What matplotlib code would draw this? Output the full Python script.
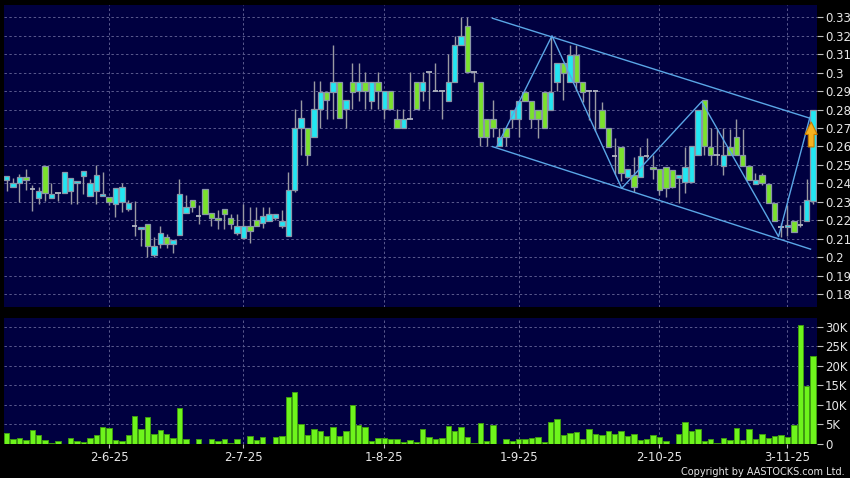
import matplotlib
matplotlib.use('Agg')
import matplotlib.pyplot as plt
from matplotlib.patches import FancyArrow

# daily OHLC, oldest first
opens = [.242, .238, .240, .2435, .237, .232, .2495, .232, .235, .235,
         .236, .240, .2437, .233, .236, .233, .2327, .229, .2298, .2259,
         .2168, .2152, .2179, .201, .2073, .2109, .2073, .2118, .2239, .2307,
         .2222, .2367, .2239, .2212, .2262, .2212, .2132, .2103, .217, .2202,
         .2184, .2196, .2214, .2166, .2112, .2363, .2698, .2698, .265, .2802,
         .2897, .2897, .2951, .2802, .2951, .2899, .2952, .2849, .2952, .2804,
         .2899, .2749, .2699, .2749, .2952, .2899, .3002, .2899, .2899, .2849,
         .2952, .3152, .3251, .3002, .295, .275, .275, .26, .27, .2748,
         .2748, .2896, .2847, .2799, .2896, .2799, .2952, .305, .2952, .3095,
         .2951, .29, .29, .2798, .2698, .2548, .2599, .2436, .2445, .2436,
         .2548, .249, .2476, .249, .2472, .2427, .2409, .2409, .2553, .285,
         .2596, .2553, .2495, .2596, .265, .2553, .2495, .2396, .2445, .2396,
         .2295, .2163, .2163, .2193, .2174, .2198, .2304]
highs = [.244, .243, .245, .248, .239, .238, .2495, .240, .235, .246,
         .243, .241, .2468, .2423, .250, .246, .2327, .2374, .2403, .2307,
         .2302, .2163, .2179, .211, .2168, .2127, .2095, .2424, .2334, .2307,
         .2284, .2367, .2239, .2253, .2262, .2235, .2235, .2286, .2273, .2273,
         .2273, .2273, .2234, .2256, .2462, .2802, .2851, .2698, .2954, .2954,
         .2897, .3152, .2951, .2851, .3053, .3051, .3002, .2952, .3002, .2899,
         .2899, .2804, .2804, .3002, .2952, .3002, .3002, .3051, .2899, .3101,
         .3201, .33, .33, .3002, .295, .275, .285, .27, .27, .2799,
         .2847, .2896, .2847, .2799, .2896, .32, .305, .305, .315, .315,
         .2951, .29, .29, .2843, .2698, .2644, .2599, .2476, .2545, .2599,
         .2644, .2556, .2476, .249, .2472, .2445, .2599, .26, .2795, .285,
         .27, .27, .27, .2695, .275, .2695, .2495, .2454, .2454, .2396,
         .2295, .2185, .2283, .2193, .2281, .2426, .2795]
lows = [.236, .238, .230, .2365, .225, .229, .2305, .232, .2305, .235,
        .229, .229, .234, .233, .229, .233, .228, .222, .2244, .2248,
        .2114, .206, .200, .200, .205, .205, .2022, .2118, .2239, .2244,
        .2177, .2235, .2168, .215, .215, .215, .2118, .2103, .2076, .2166,
        .2157, .2193, .2202, .2157, .2112, .2354, .2551, .2497, .265, .2698,
        .2748, .2748, .2752, .2698, .2802, .2849, .2804, .2804, .2804, .2749,
        .2804, .2699, .2699, .2749, .2804, .2849, .2804, .2899, .2749, .2849,
        .2952, .3152, .3002, .2952, .26, .26, .265, .26, .26, .27,
        .265, .2847, .27, .2648, .2699, .2799, .29, .285, .2952, .29,
        .2843, .2743, .2685, .2698, .2599, .245, .241, .2427, .2355, .2436,
        .2535, .2425, .2337, .2328, .2373, .2292, .2346, .2409, .2553, .2553,
        .25, .25, .2445, .2553, .2553, .2495, .242, .2396, .239, .2295,
        .2193, .2111, .2112, .2138, .2164, .2198, .229]
closes = [.244, .240, .2435, .242, .237, .236, .235, .234, .235, .246,
          .243, .241, .2468, .240, .2446, .234, .2296, .2374, .2379, .2293,
          .2168, .2163, .206, .206, .213, .2073, .2095, .2343, .2271, .2271,
          .2222, .2235, .2212, .2199, .2232, .2177, .2167, .217, .2144, .2171,
          .2223, .2234, .2234, .2193, .2363, .2698, .2752, .2551, .2802, .2897,
          .2851, .2951, .2752, .2851, .2897, .2952, .2899, .2952, .2899, .2899,
          .2804, .2699, .2749, .2749, .2804, .2952, .3002, .2899, .2899, .2952,
          .3152, .3201, .3002, .3002, .265, .265, .27, .265, .265, .2799,
          .2847, .2847, .2748, .2748, .2699, .2896, .305, .300, .3095, .2952,
          .2897, .29, .29, .2698, .2599, .2548, .2454, .2476, .2382, .2548,
          .2548, .2476, .2364, .2373, .2382, .2445, .249, .26, .2795, .26,
          .2553, .2553, .2553, .2553, .2553, .2495, .242, .242, .2404, .2295,
          .2193, .2163, .2175, .2138, .2174, .2308, .2795]

# volume in thousands of shares
volumes_k = [2.7, 1.2, 1.5, 1.0, 3.6, 2.4, 0.9, 0.2, 0.7, 0.1,
             1.5, 0.7, 0.4, 1.6, 2.2, 4.3, 4.2, 0.9, 0.7, 2.2,
             7.2, 3.8, 6.8, 2.5, 3.6, 2.6, 1.5, 9.1, 1.3, 0.1,
             1.3, 0.1, 1.4, 0.7, 1.4, 0.2, 1.3, 0.1, 2.1, 1.1,
             1.8, 0.1, 1.8, 2.0, 12.0, 13.2, 5.1, 2.4, 3.8, 3.2,
             2.1, 4.4, 2.1, 3.2, 9.9, 4.9, 4.3, 0.7, 1.5, 1.5,
             1.4, 1.3, 0.4, 0.9, 0.4, 3.8, 1.8,
             1.3, 1.5, 4.5, 3.3, 4.4, 1.8, 0.3, 5.3, 0.7, 4.9,
             0.1, 1.4, 0.8, 1.3, 1.3, 1.5, 1.8, 0.5, 5.6, 6.3,
             2.4, 2.7, 3.0, 1.2, 3.8, 2.6, 2.4, 3.3, 2.6, 3.2,
             2.0, 2.5, 1.0, 1.4, 2.2, 1.7, 0.8, 0.1, 2.5, 5.6,
             3.3, 3.8, 0.7, 1.2, 0.3, 1.5, 0.9, 4.0, 1.1, 3.8,
             1.3, 2.5, 1.5, 2.0, 2.3, 1.8, 4.8, 30.3, 14.7, 22.5]

date_ticks = [16, 37, 59, 80, 102, 122]
date_labels = ['2-6-25', '2-7-25', '1-8-25', '1-9-25', '2-10-25', '3-11-25']
price_ticks = [0.18, 0.19, 0.20, 0.21, 0.22, 0.23, 0.24, 0.25,
               0.26, 0.27, 0.28, 0.29, 0.30, 0.31, 0.32, 0.33]
vol_ticks = [0, 5, 10, 15, 20, 25, 30]

# drawn channel and zigzag (bar index, price)
upper_x = [75.9, 125.5]
upper_y = [0.3295, 0.2753]
lower_x = [75.9, 125.6]
lower_y = [0.2599, 0.2043]
zig_x = [76.6, 85.2, 96.1, 108.6, 120.6, 125.5]
zig_y = [0.26, 0.32, 0.2373, 0.2843, 0.2111, 0.2758]

bg = '#000040'
up_col = '#22e6f2'
down_col = '#7ae22c'
edge_col = '#8a96a8'
wick_col = '#9a9aa2'
grid_col = '#5a5a8e'
text_col = '#e6e6e6'
line_col = '#5aa6e6'

fig = plt.figure(figsize=(8.5, 4.78), dpi=100, facecolor='black')
ax = fig.add_axes([0.0047, 0.3584, 0.9561, 0.6312], facecolor=bg)
axv = fig.add_axes([0.0047, 0.0711, 0.9561, 0.2636], facecolor=bg)

n = len(closes)
xs = list(range(n))

# candles
ax.vlines(xs, lows, highs, color=wick_col, lw=1, zorder=2)
for i in xs:
    o, c = opens[i], closes[i]
    if abs(c - o) < 0.0004:
        ax.hlines(o, i - 0.42, i + 0.42, color='#b0b4c0', lw=1.3, zorder=3)
    else:
        col = up_col if c > o else down_col
        ax.bar(i, abs(c - o), bottom=min(o, c), width=0.82, color=col,
               edgecolor=edge_col, linewidth=0.9, zorder=3)

# channel + zigzag
ax.plot(upper_x, upper_y, color=line_col, lw=1, zorder=4)
ax.plot(lower_x, lower_y, color=line_col, lw=1, zorder=4)
ax.plot(zig_x, zig_y, color=line_col, lw=1, zorder=4)

# up arrow on last bar
ax.add_patch(FancyArrow(n - 1.3, 0.2597, 0, 0.0136, width=0.9, head_width=1.9,
                        head_length=0.0068, length_includes_head=True,
                        facecolor='#f6b21e', edgecolor='#c87a00', lw=0.8,
                        zorder=5, clip_on=False))

ax.set_xlim(-0.42, 126.56)
ax.set_ylim(0.1731, 0.3367)
ax.set_yticks(price_ticks)
ax.set_yticklabels(['%g' % p for p in price_ticks])
ax.set_xticks(date_ticks)
ax.tick_params(axis='x', length=0, labelbottom=False)
ax.yaxis.tick_right()
ax.tick_params(axis='y', length=4, width=0.8, colors='#bfbfbf',
               labelcolor=text_col, labelsize=8.5, pad=2)
ax.grid(True, color=grid_col, linestyle=(0, (2.5, 2.5)), lw=0.7)
ax.set_axisbelow(True)

# volume
axv.bar(xs, volumes_k, width=0.85, color='#6ef41c', edgecolor='#3f9a12',
        linewidth=0.7, zorder=3)
axv.set_xlim(-0.42, 126.56)
axv.set_ylim(0, 32.2)
axv.set_yticks(vol_ticks)
axv.set_yticklabels(['0'] + ['%dK' % v for v in vol_ticks[1:]])
axv.set_xticks(date_ticks)
axv.set_xticklabels(date_labels)
axv.yaxis.tick_right()
axv.tick_params(axis='y', length=4, width=0.8, colors='#bfbfbf',
                labelcolor=text_col, labelsize=8.5, pad=2)
axv.tick_params(axis='x', length=3, width=0.8, colors='#bfbfbf',
                labelcolor=text_col, labelsize=8.5, pad=2)
axv.grid(True, color=grid_col, linestyle=(0, (2.5, 2.5)), lw=0.7)
axv.set_axisbelow(True)

for a in (ax, axv):
    for s in a.spines.values():
        s.set_visible(False)

fig.text(0.994, 0.002, 'Copyright by AASTOCKS.com Ltd.', color=text_col,
         fontsize=7, ha='right', va='bottom')

fig.savefig('out.png', dpi=100, facecolor='black')
